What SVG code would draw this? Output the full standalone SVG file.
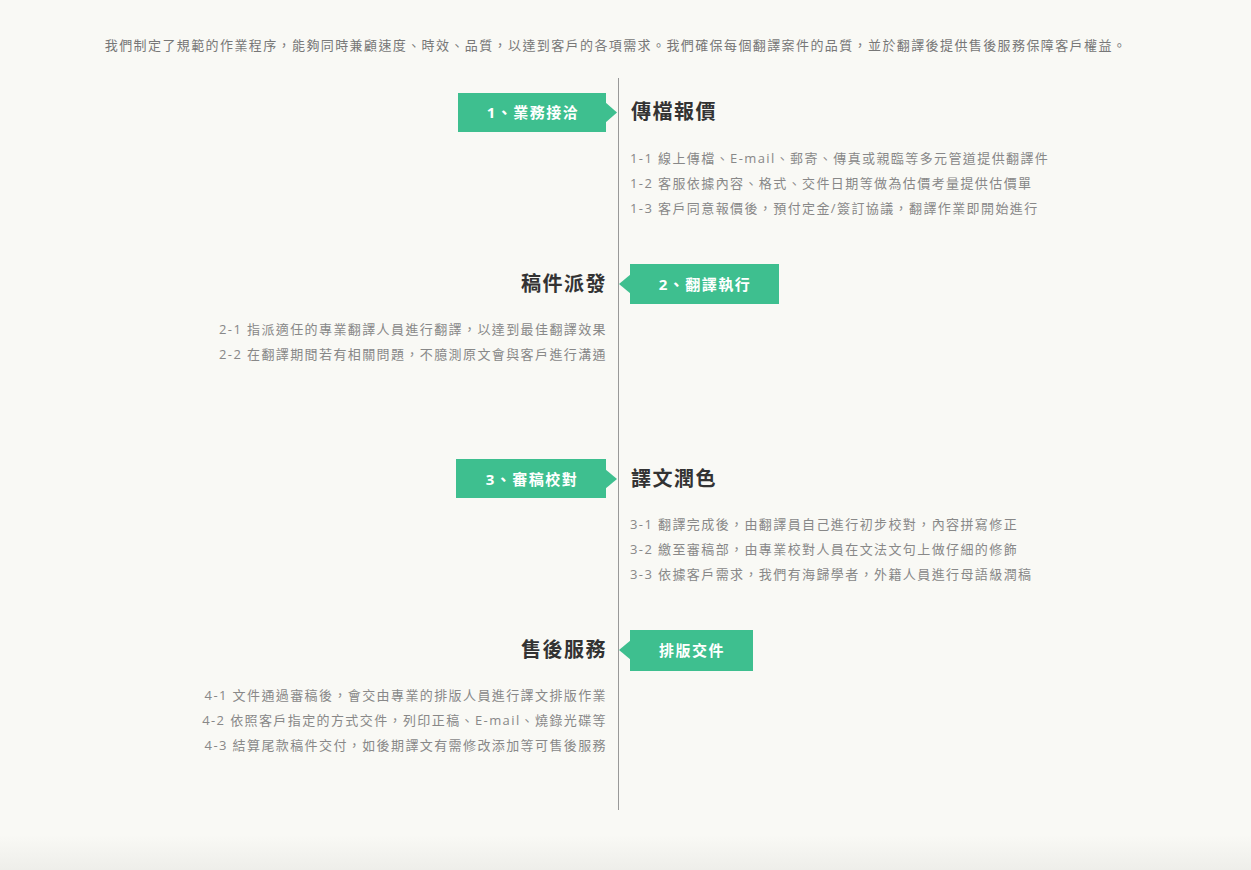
<svg xmlns="http://www.w3.org/2000/svg" width="1251" height="870" viewBox="0 0 1251 870">
<defs>
<linearGradient id="bg" x1="0" y1="0" x2="0" y2="1">
<stop offset="0" stop-color="#f9f9f5"/>
<stop offset="1" stop-color="#eeeeea"/>
</linearGradient>
<style>
.intro{font-family:"Open Sans","Noto Sans CJK TC",sans-serif;font-size:13px;fill:#777;letter-spacing:1.4px}
.desc{font-family:"Open Sans","Noto Sans CJK TC",sans-serif;font-size:13px;fill:#888;letter-spacing:1.4px}
.head{font-family:"Open Sans","Noto Sans CJK TC",sans-serif;font-size:20px;font-weight:bold;fill:#333;letter-spacing:1.5px}
.lbl{font-family:"Open Sans","Noto Sans CJK TC",sans-serif;font-size:15px;font-weight:bold;fill:#fff;letter-spacing:1.5px;text-anchor:middle}
.box{fill:#3ebf8f}
.r{text-anchor:end}
</style>
</defs>
<rect width="1251" height="870" fill="#f9f9f5"/>
<rect y="835" width="1251" height="35" fill="url(#bg)"/>
<text class="intro" x="616" y="50" text-anchor="middle">我們制定了規範的作業程序，能夠同時兼顧速度、時效、品質，以達到客戶的各項需求。我們確保每個翻譯案件的品質，並於翻譯後提供售後服務保障客戶權益。</text>
<g id="connectors">
<line x1="618.5" y1="78" x2="618.5" y2="810" stroke="#999" stroke-width="1"/>
</g>
<g id="step1">
<rect class="box" x="458" y="93" width="148" height="39"/>
<polygon class="box" points="605,102 617,112.5 605,123"/>
<text class="lbl" x="533" y="118">1、業務接洽</text>
<text class="head" x="631" y="119">傳檔報價</text>
<text class="desc" x="630" y="163">1-1 線上傳檔、E-mail、郵寄、傳真或親臨等多元管道提供翻譯件</text>
<text class="desc" x="630" y="188">1-2 客服依據內容、格式、交件日期等做為估價考量提供估價單</text>
<text class="desc" x="630" y="213">1-3 客戶同意報價後，預付定金/簽訂協議，翻譯作業即開始進行</text>
</g>
<g id="step2">
<rect class="box" x="630" y="264" width="149" height="40"/>
<polygon class="box" points="631,274 619,284 631,294"/>
<text class="lbl" x="705" y="290">2、翻譯執行</text>
<text class="head r" x="607" y="291">稿件派發</text>
<text class="desc r" x="607" y="334">2-1 指派適任的專業翻譯人員進行翻譯，以達到最佳翻譯效果</text>
<text class="desc r" x="607" y="359">2-2 在翻譯期間若有相關問題，不臆測原文會與客戶進行溝通</text>
</g>
<g id="step3">
<rect class="box" x="456" y="459" width="150" height="39"/>
<polygon class="box" points="605,469 617,479 605,489"/>
<text class="lbl" x="532" y="485">3、審稿校對</text>
<text class="head" x="631" y="486">譯文潤色</text>
<text class="desc" x="630" y="529">3-1 翻譯完成後，由翻譯員自己進行初步校對，內容拼寫修正</text>
<text class="desc" x="630" y="554">3-2 繳至審稿部，由專業校對人員在文法文句上做仔細的修飾</text>
<text class="desc" x="630" y="579">3-3 依據客戶需求，我們有海歸學者，外籍人員進行母語級潤稿</text>
</g>
<g id="step4">
<rect class="box" x="630" y="630" width="123" height="41"/>
<polygon class="box" points="631,640 619,650 631,660"/>
<text class="lbl" x="692" y="656">排版交件</text>
<text class="head r" x="607" y="657">售後服務</text>
<text class="desc r" x="607" y="700">4-1 文件通過審稿後，會交由專業的排版人員進行譯文排版作業</text>
<text class="desc r" x="607" y="725">4-2 依照客戶指定的方式交件，列印正稿、E-mail、燒錄光碟等</text>
<text class="desc r" x="607" y="750">4-3 結算尾款稿件交付，如後期譯文有需修改添加等可售後服務</text>
</g>
</svg>
